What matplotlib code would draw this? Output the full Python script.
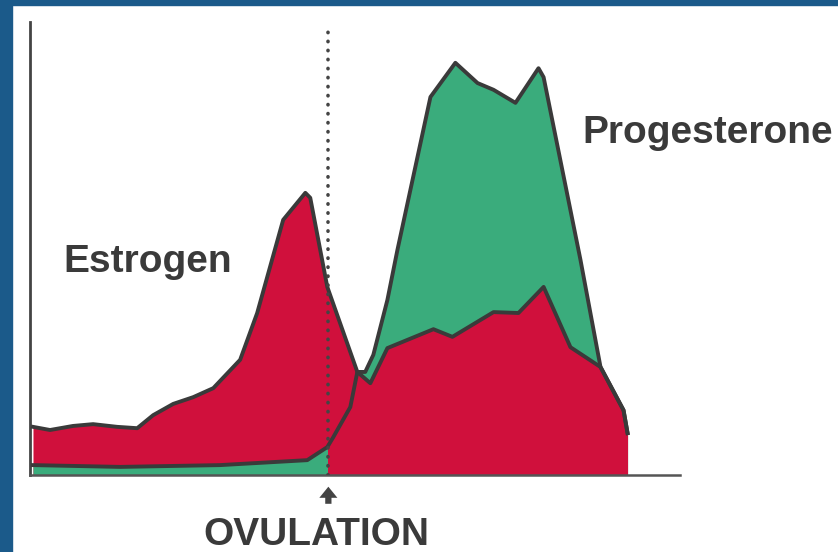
import matplotlib
matplotlib.use("Agg")
import matplotlib.pyplot as plt
from matplotlib.patches import Rectangle
import numpy as np

W, H = 838, 552

# cycle day vs. hormone level (arbitrary units)
estrogen_day = [0.14, 0.94, 2.02, 2.96, 4.09, 5.03, 5.78, 6.72, 7.66, 8.60, 9.86, 10.66,
                11.88, 12.92, 13.15, 13.95, 15.36, 15.97, 16.77, 18.93, 19.82, 21.75,
                22.92, 24.10, 25.36, 26.77, 27.85, 28.04]
estrogen = [10.7, 10.0, 10.9, 11.3, 10.7, 10.4, 13.3, 15.8, 17.3, 19.3, 25.6, 36.0,
            56.7, 62.7, 61.6, 41.8, 22.9, 20.4, 28.2, 32.4, 30.7, 36.2,
            36.0, 41.8, 28.4, 24.0, 14.4, 9.3]

progesterone_day = [0.14, 4.23, 8.92, 13.01, 13.95, 14.23, 15.03, 15.36, 15.73, 16.11,
                    16.77, 17.24, 18.79, 19.96, 21.00, 21.75, 22.78, 23.86, 24.10,
                    25.83, 26.77, 27.85, 28.04]
progesterone = [2.2, 1.8, 2.2, 3.3, 6.2, 8.4, 15.1, 22.9, 22.9, 26.7,
                38.9, 50.0, 84.0, 91.6, 87.1, 85.6, 82.7, 90.4, 88.4,
                47.8, 24.0, 14.4, 9.3]

ovulation_day = 14
red = "#d0103c"
green = "#3aac7c"
ink = "#3a3a3a"

fig = plt.figure(figsize=(W / 100, H / 100), dpi=100)
fig.patch.set_facecolor("white")

# scanned slide frame
fig.patches.append(Rectangle((0, 0), 12 / W, 1, transform=fig.transFigure, color="#1b5a8a", zorder=0))
fig.patches.append(Rectangle((0, 1 - 5 / H), 1, 5 / H, transform=fig.transFigure, color="#1b5a8a", zorder=0))

ax = fig.add_axes([30 / W, (H - 475) / H, 650 / W, 453 / H])
ax.set_xlim(0, 30.5)
ax.set_ylim(0, 453 / 4.5)
ax.set_facecolor("none")

left_clip = Rectangle((0, -10), ovulation_day, 200, transform=ax.transData)
right_clip = Rectangle((ovulation_day, -10), 30, 200, transform=ax.transData)

# before ovulation progesterone sits on top, after it estrogen does
f = ax.fill_between(estrogen_day, estrogen, color=red, lw=0, zorder=1)
f.set_clip_path(left_clip)
f = ax.fill_between(progesterone_day, progesterone, color=green, lw=0, zorder=2)
f.set_clip_path(left_clip)
f = ax.fill_between(progesterone_day, progesterone, color=green, lw=0, zorder=1)
f.set_clip_path(right_clip)
f = ax.fill_between(estrogen_day, estrogen, color=red, lw=0, zorder=2)
f.set_clip_path(right_clip)

ax.plot(progesterone_day, progesterone, color=ink, lw=2.8, zorder=3, solid_joinstyle="round")
ax.plot(estrogen_day, estrogen, color=ink, lw=2.8, zorder=4, solid_joinstyle="round")

ax.plot([ovulation_day, ovulation_day], [0, 100], color="#444444", lw=2.6,
        linestyle=(0, (0.1, 2.4)), dash_capstyle="round", zorder=5)

for side in ["top", "right"]:
    ax.spines[side].set_visible(False)
ax.spines["left"].set_color("#444444")
ax.spines["left"].set_linewidth(2)
ax.spines["bottom"].set_color("#555555")
ax.spines["bottom"].set_linewidth(1.8)
ax.set_xticks([])
ax.set_yticks([])

ax.annotate("", xy=(ovulation_day, -2.6), xytext=(ovulation_day, -6.4),
            annotation_clip=False,
            arrowprops=dict(width=4.5, headwidth=13, headlength=8, shrink=0,
                            color="#444444", lw=0))

font = dict(family="Liberation Sans", weight="bold", color=ink)
fig.text(63 / W, 1 - 272 / H, "Estrogen", fontsize=28, ha="left", va="baseline", **font)
fig.text(582 / W, 1 - 143 / H, "Progesterone", fontsize=28, ha="left", va="baseline", **font)
fig.text(316 / W, 1 - 545 / H, "OVULATION", fontsize=28, ha="center", va="baseline", **font)

fig.savefig("out.png", dpi=100)
